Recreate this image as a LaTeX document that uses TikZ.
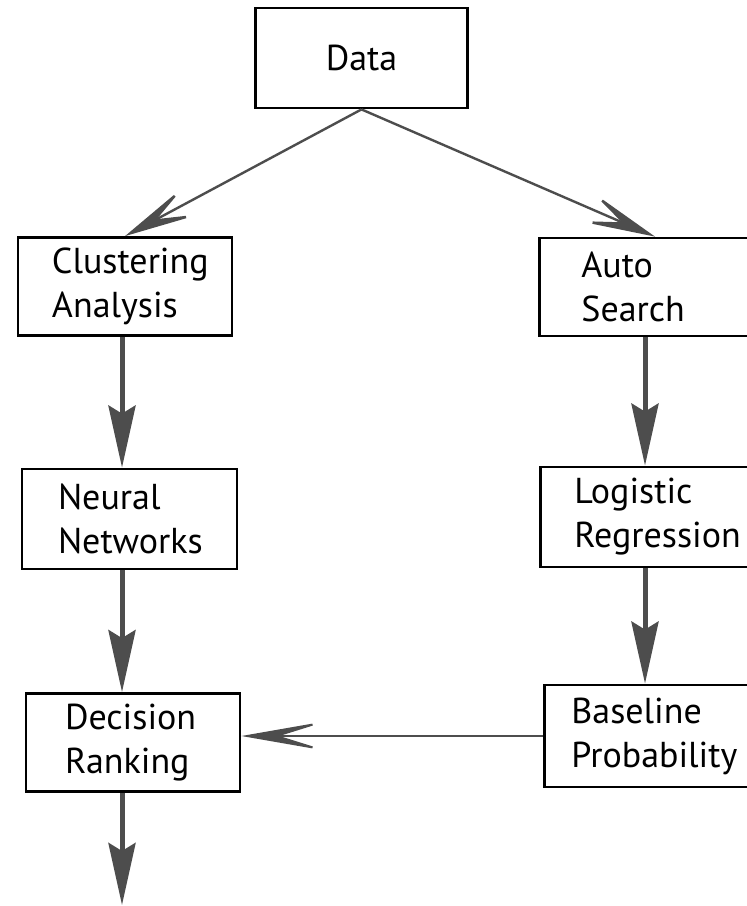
\documentclass[tikz,border=0pt]{standalone}
\usepackage{fontspec}
\setmainfont{PT Sans}
\usetikzlibrary{arrows.meta}
\definecolor{shaft}{HTML}{4d4d4d}

\begin{document}
\begin{tikzpicture}[x=0.5pt, y=-0.5pt,
  box/.style={draw, line width=1.4pt, minimum height=49pt, minimum width=106pt, align=left, inner ysep=0pt, font=\fontsize{18}{22}\selectfont},
  down/.style={-{Stealth[length=31pt, width=13.5pt, inset=4pt]}, line width=2.5pt, shaft},
  barb/.style={-{Stealth[length=38pt, width=16pt, inset=20pt]}, line width=1.2pt, shaft}]
  \useasboundingbox (0,0) rectangle (747,906);
  \clip (0,0) rectangle (747,906);
  \node[box, minimum height=50pt] (data) at (361.5,58) {Data};
  \node[box, text width=73pt, inner xsep=17pt] (clust) at (125,286.5) {Clustering\\Analysis};
  \node[box, text width=67pt, inner xsep=21pt, anchor=west] (auto) at (538,287) {Auto\\Search};
  \node[box, text width=72pt, inner xsep=17pt, minimum height=50pt, anchor=west] (logit) at (539,517) {Logistic\\Regression};
  \node[box, text width=79pt, inner xsep=13.5pt, minimum height=51pt, anchor=west] (base) at (543,736) {Baseline\\Probability};
  \node[box, text width=71.5pt, inner xsep=18pt, minimum height=50pt] (neural) at (129.5,519) {Neural\\Networks};
  \node[box, text width=68pt, inner xsep=19.5pt] (rank) at (133,742.5) {Decision\\Ranking};
  \coordinate (end) at (122,905);
  \coordinate (rhs) at (645,0);
  % from the data to both branches
  \draw[barb] (data.south) -- (clust.north);
  \draw[barb] (data.south) -- ([xshift=5pt]auto.north -| rhs);
  % left branch
  \draw[down] (clust.south -| end) -- (neural.north -| end);
  \draw[down] (neural.south -| end) -- (rank.north -| end);
  \draw[down] (rank.south -| end) -- (end);
  % right branch
  \draw[down] (auto.south -| rhs) -- (logit.north -| rhs);
  \draw[down] (logit.south -| rhs) -- (base.north -| rhs);
  \draw[barb, line width=1pt, -{Stealth[length=43pt, width=15pt, inset=24pt]}] (base.west) -- (base.west -| rank.east);
\end{tikzpicture}
\end{document}
